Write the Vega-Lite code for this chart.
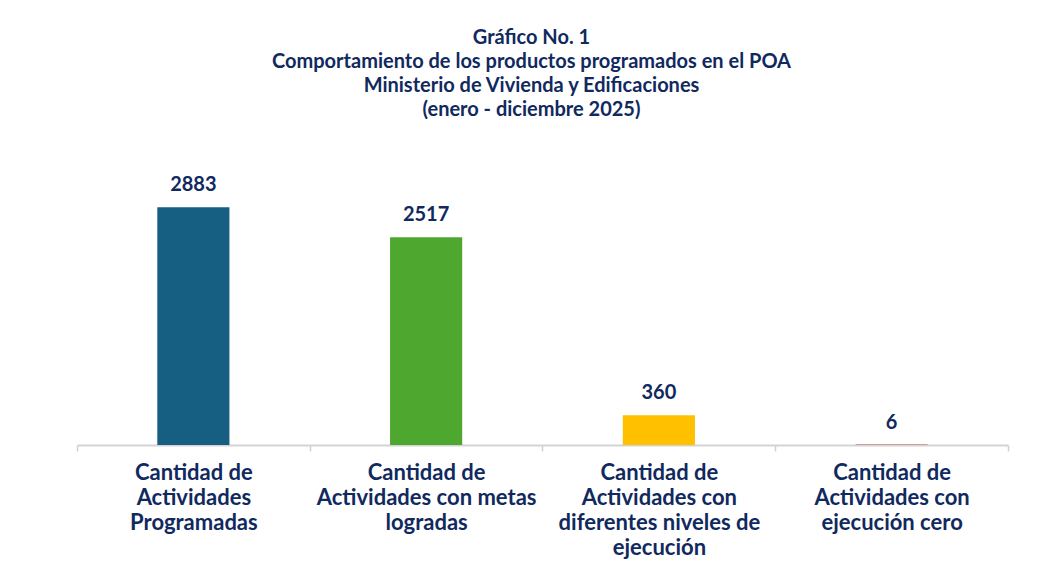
{
  "$schema": "https://vega.github.io/schema/vega-lite/v6.json",
  "width": 931,
  "height": 297,
  "autosize": {"type": "none"},
  "padding": {"left": 77, "top": 148, "right": 33, "bottom": 133},
  "background": "white",
  "title": {
    "text": ["Gráfico No. 1", "Comportamiento de los productos programados en el POA", "Ministerio de Vivienda y Edificaciones", "(enero - diciembre 2025)"],
    "font": "Lato",
    "fontSize": 20,
    "fontWeight": "bold",
    "color": "#10295e",
    "lineHeight": 24,
    "anchor": "middle",
    "dx": -11,
    "offset": 28
  },
  "data": {
    "values": [
      {"cat": "Cantidad de|Actividades|Programadas", "value": 2883, "color": "#175f82"},
      {"cat": "Cantidad de|Actividades con metas|logradas", "value": 2517, "color": "#4ea72e"},
      {"cat": "Cantidad de|Actividades con|diferentes niveles de|ejecución", "value": 360, "color": "#ffc000"},
      {"cat": "Cantidad de|Actividades con|ejecución cero", "value": 6, "color": "#c0504d"}
    ]
  },
  "encoding": {
    "x": {
      "field": "cat",
      "type": "nominal",
      "sort": null,
      "scale": {"paddingInner": 0.69, "paddingOuter": 0.345},
      "axis": {
        "title": null,
        "labelAngle": 0,
        "labelExpr": "split(datum.label, '|')",
        "labelFont": "Lato",
        "labelFontSize": 22,
        "labelFontWeight": "bold",
        "labelColor": "#10295e",
        "labelLineHeight": 25,
        "labelPadding": 11,
        "labelLimit": 0,
        "labelOffset": 80.3,
        "ticks": true,
        "bandPosition": 3.2258,
        "tickExtra": true,
        "tickOffset": -80.3,
        "tickColor": "#d0d0d0",
        "tickSize": 6,
        "tickWidth": 1.5,
        "domainColor": "#d4d4d4",
        "domainWidth": 2
      }
    },
    "y": {
      "field": "value",
      "type": "quantitative",
      "scale": {"domain": [0, 3600]},
      "axis": null
    }
  },
  "layer": [
    {
      "mark": {"type": "bar"},
      "encoding": {
        "color": {"field": "color", "type": "nominal", "scale": null}
      }
    },
    {
      "mark": {"type": "text", "baseline": "bottom", "dy": -12, "font": "Lato", "fontSize": 20, "fontWeight": "bold", "color": "#10295e"},
      "encoding": {
        "text": {"field": "value", "type": "quantitative", "format": "d"}
      }
    }
  ],
  "config": {"view": {"stroke": null}}
}
